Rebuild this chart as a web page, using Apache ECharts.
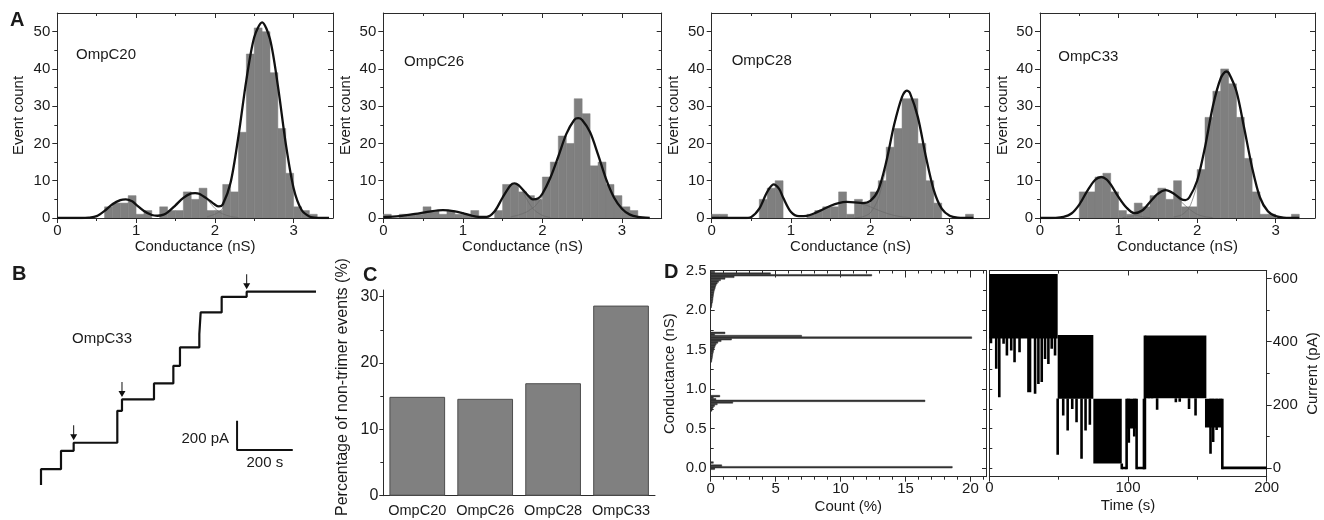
<!DOCTYPE html>
<html><head><meta charset="utf-8">
<script src="https://cdn.jsdelivr.net/npm/echarts@6/dist/echarts.min.js"></script>
<style>html,body{margin:0;padding:0;background:#fff}#c{width:1324px;height:520px}</style>
</head><body><div id="c"></div>
<script>
// ---------------- DATA ----------------
// Panel A: histogram bin edges (nS) and counts per bin
const histEdges = [0,0.1,0.2,0.3,0.4,0.5,0.6,0.7,0.8,0.9,1.0,1.1,1.2,1.3,1.4,1.5,1.6,1.7,1.8,1.9,2.0,2.1,2.2,2.3,2.4,2.5,2.6,2.7,2.8,2.9,3.0,3.1,3.2,3.3,3.4,3.5];
const counts20 = [0,0,0,0,0,0,3,4,4,6,1,2,0,3,2,2,7,5,8,2,2,9,7,23,44,51,50,39,24,12,3,2,1,0,0];
const counts26 = [1,0,1,1,1,3,2,1,2,1,1,2,0,0,2,9,9,7,6,5,11,15,22,20,32,28,14,15,9,6,3,2,0,0,0];
const counts28 = [1,1,0,0,0,0,5,8,10,0,0,0,1,2,3,3,7,1,5,4,7,10,19,24,32,32,20,10,4,0,0,0,1,0,0];
const counts33 = [0,0,0,0,0,7,7,11,12,7,2,1,4,3,6,8,5,10,3,3,13,27,34,40,36,27,16,7,1,1,0,0,1,0,0];
// Panel A: fitted curves
const curve20 = [[0,0],[0.3,0],[0.4,0.1],[0.5,0.5],[0.6,1.9],[0.7,3.7],[0.8,4.8],[0.87,5.0],[0.95,4.5],[1.0,3.6],[1.1,1.9],[1.2,0.8],[1.27,0.6],[1.35,0.9],[1.4,1.5],[1.5,3.4],[1.6,5.4],[1.7,6.6],[1.75,6.7],[1.8,6.5],[1.9,5.2],[2.0,3.6],[2.05,3.1],[2.1,3.6],[2.2,9.5],[2.3,22],[2.4,37],[2.5,48.5],[2.6,52.5],[2.7,48],[2.8,35.5],[2.9,20],[3.0,8],[3.1,2.2],[3.2,0.4],[3.3,0.05],[3.45,0]];
const curve26 = [[0,0.2],[0.2,0.5],[0.4,1.1],[0.6,1.8],[0.75,2.1],[0.9,1.8],[1.0,1.3],[1.1,0.7],[1.2,0.3],[1.3,0.3],[1.4,1.8],[1.5,5.5],[1.6,8.8],[1.65,9.3],[1.7,8.8],[1.8,6.5],[1.88,5.0],[1.95,5.3],[2.0,6.5],[2.1,10.8],[2.2,16.5],[2.3,22.5],[2.4,26.3],[2.45,26.8],[2.5,26.3],[2.6,23],[2.7,17],[2.8,10.5],[2.9,5.5],[3.0,2.5],[3.1,0.9],[3.2,0.3],[3.35,0]];
const curve28 = [[0,0],[0.4,0],[0.5,0.3],[0.6,2.5],[0.7,7],[0.78,9],[0.85,7.8],[0.9,5.5],[1.0,1.6],[1.1,0.5],[1.2,0.6],[1.3,1.3],[1.4,2.3],[1.5,3.3],[1.6,4.0],[1.7,4.3],[1.8,4.2],[1.9,4.0],[2.0,4.6],[2.1,7.5],[2.2,15],[2.3,25],[2.4,32.5],[2.46,34.2],[2.5,33.5],[2.6,27],[2.7,16.5],[2.8,7.5],[2.9,2.5],[3.0,0.6],[3.1,0.1],[3.3,0]];
const curve33 = [[0,0],[0.2,0.05],[0.3,0.3],[0.4,1.2],[0.5,3.6],[0.6,7.2],[0.7,10.2],[0.78,11],[0.85,10.3],[0.9,9],[1.0,5.6],[1.1,2.8],[1.2,1.3],[1.3,2.0],[1.4,4.3],[1.5,6.5],[1.6,7.5],[1.7,6.6],[1.8,5.0],[1.85,4.8],[1.9,5.5],[2.0,10],[2.1,19],[2.2,30],[2.3,37.5],[2.37,39.3],[2.4,39],[2.5,34],[2.6,24],[2.7,13.5],[2.8,5.5],[2.9,1.8],[3.0,0.5],[3.1,0.1],[3.3,0]];
// Panel A: visible parts of the single-peak components (thin lines)
const comps20 = [[[1.9,5.0],[2.0,2.6],[2.05,1.7],[2.1,1.1],[2.2,0.4],[2.3,0.1]],[[1.9,0.3],[2.0,1.0],[2.05,1.6],[2.1,2.6],[2.2,9]]];
const comps26 = [[[1.75,7.2],[1.8,5.2],[1.85,3.4],[1.9,2.1],[2.0,0.7],[2.1,0.15]],[[1.6,0.3],[1.7,0.8],[1.8,1.6],[1.85,2.3],[1.9,3.0],[2.0,5.8],[2.1,10.6]]];
const comps28 = [[[1.85,4.0],[1.9,3.8],[2.0,3.0],[2.1,2.1],[2.2,1.3],[2.3,0.7],[2.4,0.3],[2.5,0.1]],[[1.8,0.1],[1.9,0.3],[2.0,1.4],[2.1,5.2],[2.2,13.5]]];
const comps33 = [[[1.0,5.4],[1.1,2.6],[1.2,1.0],[1.3,0.35],[1.4,0.1]],[[1.05,0.1],[1.1,0.25],[1.2,0.6],[1.3,1.6],[1.4,4.1]],[[1.7,6.3],[1.8,4.3],[1.9,2.4],[2.0,1.0],[2.1,0.35],[2.2,0.1]],[[1.7,0.3],[1.8,0.8],[1.9,2.8],[2.0,8.8]]];
const aNames = ['OmpC20','OmpC26','OmpC28','OmpC33'];

// Panel B: step trace (time s, current pA), arrows (indices into trace)
const bTimes  = [0, 0, 71.8, 117.3, 274, 290.8, 405.7, 475.2, 499, 568.5, 573.3, 648.7, 738.5, 987.4];
const bLevels = [0, 109, 234, 289, 507, 585, 694, 814, 940, 1031, 1179, 1285, 1320, 1320];
const bArrowIdx = [3, 5, 12];
const bScaleBar = [[704,439],[704,239],[904,239]]; // 200 pA x 200 s

// Panel C
const cCats = ['OmpC20','OmpC26','OmpC28','OmpC33'];
const cVals = [14.9, 14.6, 16.95, 28.65];

// Panel D left: conductance histogram [nS, count %]
const dHist = [
 [2.48,0.3],[2.46,4.6],[2.44,12.4],[2.42,1.8],[2.40,1.1],[2.38,0.75],[2.36,0.6],[2.34,0.5],[2.32,0.42],[2.30,0.37],[2.28,0.34],[2.26,0.3],[2.24,0.26],[2.22,0.24],[2.20,0.21],[2.18,0.2],[2.16,0.18],[2.14,0.17],[2.12,0.15],[2.10,0.13],[2.08,0.1],[2.06,0.08],[2.04,0.06],
 [1.71,1.1],[1.69,0.3],[1.67,7.0],[1.65,20.1],[1.63,1.6],[1.61,0.8],[1.59,0.55],[1.57,0.42],[1.55,0.35],[1.53,0.3],[1.51,0.26],[1.49,0.22],[1.47,0.2],[1.45,0.17],[1.43,0.15],[1.41,0.13],[1.39,0.11],[1.37,0.09],[1.35,0.07],
 [0.91,0.7],[0.89,0.2],[0.87,0.4],[0.85,16.5],[0.83,1.7],[0.81,0.5],[0.79,0.3],[0.77,0.2],[0.75,0.14],[0.73,0.1],
 [0.07,0.2],[0.03,0.85],[0.01,18.6],[-0.01,0.3]
];
// Panel D right: current trace as flicker bands [t0, t1, low pA, high pA] and spikes [t, low, high]
const dBands = [[0,49.3,410,614],[27.3,30.3,240,415],[49.3,75,219,421],[75,95.5,14,219],[95.5,99,-4,4],[99,106.2,125,219],[106.2,111.5,-4,4],[112.5,156.5,221,419],[155.5,168,128,219],[168,200,-4,5]];
const dSpikes = [[1.2,395,415],[5.0,314,415],[7.2,224,415],[10.3,393,415],[12.7,356,415],[15.8,372,415],[18.2,335,415],[21.8,366,415],[33.0,235,415],[35.4,266,415],[37.8,272,415],[40.2,345,415],[42.6,329,415],[45.0,377,415],[47.4,356,415],
 [49.3,42,220],[53.3,166,220],[56.5,119,220],[59.8,187,220],[62.9,145,220],[66.5,29,220],[69.4,119,220],[72.5,137,220],
 [95.5,-4,14],[99,-4,219],[100.6,80,219],[104.5,100,219],[106.2,-4,219],[111.5,-4,219],[112.2,-4,419],
 [115,245,221],[117.3,250,221],[121,184,221],[134.5,208,221],[137.3,210,221],[144,187,221],[148.7,166,221],
 [159.5,45,219],[161.4,82,219],[163.9,120,219],[166.3,130,219],[168,-4,219]];

// ---------------- BUILD ----------------
const AXC = '#2b2b2b', TXT = '#1a1a1a', FF = '"Liberation Sans", Arial, sans-serif';
const option = {animation:false, backgroundColor:'#fff', grid:[], xAxis:[], yAxis:[], series:[], graphic:[]};
function grid(l,t,w,h){ option.grid.push({left:l, top:t, width:w, height:h, outerBoundsMode:'none', containLabel:false}); return option.grid.length-1; }
function axis(dim, gi, pos, min, max, c){
  const list = dim==='x' ? option.xAxis : option.yAxis;
  const major = c.major || [];
  const a = {type:'value', gridIndex:gi, position:pos, min:min, max:max,
    splitLine:{show:false}, splitArea:{show:false},
    axisLine:{show:c.line!==false, onZero:false, lineStyle:{color:AXC, width:1}},
    axisTick:{show:major.length>0, inside:!!c.inside, length:c.len||5, customValues:major, lineStyle:{color:AXC, width:1}},
    axisLabel:{show:!!c.labels, customValues:major, margin:c.margin==null?7:c.margin, fontFamily:FF, fontSize:c.fs||15, color:TXT,
      formatter:c.fmt || (v=>String(v)), hideOverlap:false},
    name:c.name||'', nameLocation:'middle', nameGap:c.nameGap||25,
    nameTextStyle:{fontFamily:FF, fontSize:c.nfs||15, color:TXT}};
  if (c.nameRotate!=null) a.nameRotate = c.nameRotate;
  list.push(a); const idx = list.length-1;
  if (c.minor && c.minor.length){
    list.push({type:'value', gridIndex:gi, position:pos, min:min, max:max, splitLine:{show:false},
      axisLine:{show:false, onZero:false}, axisLabel:{show:false},
      axisTick:{show:true, inside:!!c.inside, length:c.mlen||3, customValues:c.minor, lineStyle:{color:AXC, width:1}}});
  }
  return idx;
}
function txt(x,y,s,o,rot){ const el = {type:'text', x:x, y:y, silent:true, z:100,
  style:Object.assign({text:s, fill:TXT, font:'15px '+FF, align:'left', verticalAlign:'middle'}, o||{})};
  if (rot) el.rotation = rot; option.graphic.push(el); }

// ---- Panel A ----
const aGridPos = [[57.3,13,275.7,205],[383.3,13,278.4,205],[711.7,13,277.6,205],[1040,13,275,205]];
const aCounts = [counts20, counts26, counts28, counts33];
const aCurves = [curve20, curve26, curve28, curve33];
const aComps = [comps20, comps26, comps28, comps33];
const aLabelPos = [[76,55],[404,62],[731.7,61],[1058.3,57]];
const yMaj = [0,10,20,30,40,50], yMin = [5,15,25,35,45];
aGridPos.forEach((gp, k) => {
  const g = grid(gp[0], gp[1], gp[2], gp[3]);
  const xi = axis('x', g, 'bottom', 0, 3.5, {major:[0,1,2,3], minor:[0.5,1.5,2.5], labels:true, margin:5, name:'Conductance (nS)', nameGap:18});
  axis('x', g, 'top', 0, 3.5, {major:[1,2,3], minor:[0.5,1.5,2.5], inside:true});
  const yi = axis('y', g, 'left', 0, 55, {major:yMaj, minor:yMin, labels:true, margin:7, name:'Event count', nameGap:k===0?31:30});
  axis('y', g, 'right', 0, 55, {major:yMaj.slice(1), minor:yMin, inside:true});
  option.series.push({type:'custom', xAxisIndex:xi, yAxisIndex:yi, silent:true, z:2, clip:true,
    data:aCounts[k].map((c,i)=>[histEdges[i], histEdges[i+1], c]),
    encode:{x:[0,1], y:2},
    renderItem:(p, api)=>{
      if (!api.value(2)) return null;
      const a = api.coord([api.value(0), api.value(2)]), b = api.coord([api.value(1), 0]);
      return {type:'rect', shape:{x:a[0], y:a[1], width:b[0]-a[0], height:b[1]-a[1]},
        style:{fill:'#7f7f7f', stroke:'#7f7f7f', lineWidth:0.5}};
    }});
  aComps[k].forEach(cv => option.series.push({type:'line', xAxisIndex:xi, yAxisIndex:yi, data:cv, smooth:0.3,
    symbol:'none', silent:true, z:3, lineStyle:{color:'#6a6a6a', width:0.7}}));
  option.series.push({type:'line', xAxisIndex:xi, yAxisIndex:yi, data:aCurves[k], smooth:0.3, symbol:'none',
    silent:true, z:4, lineStyle:{color:'#111', width:2.3}});
  txt(aLabelPos[k][0], aLabelPos[k][1], aNames[k]);
});
txt(10, 20, 'A', {font:'bold 20px '+FF});

// ---- Panel B ----
{
  const g = grid(41, 280, 278.5, 205.1);
  const xi = axis('x', g, 'bottom', 0, 1000, {line:false});
  const yi = axis('y', g, 'left', 0, 1400, {line:false});
  option.series.push({type:'line', step:'end', xAxisIndex:xi, yAxisIndex:yi, silent:true,
    data:bTimes.map((t,i)=>[t, bLevels[i]]), symbol:'none', lineStyle:{color:'#111', width:2.2},
    markPoint:{silent:true, symbol:'path://M3,0 L4,0 L4,9 L7,9 L3.5,15 L0,9 L3,9 Z', symbolSize:[7,15], symbolOffset:[0,-10],
      itemStyle:{color:'#111'}, label:{show:false},
      data:bArrowIdx.map(i=>({coord:[bTimes[i], bLevels[i]]}))}});
  option.series.push({type:'line', xAxisIndex:xi, yAxisIndex:yi, silent:true, data:bScaleBar, symbol:'none',
    lineStyle:{color:'#111', width:2}});
  txt(12, 274, 'B', {font:'bold 20px '+FF});
  txt(72, 339, 'OmpC33');
  txt(229, 439, '200 pA', {align:'right'});
  txt(246.5, 463, '200 s');
}

// ---- Panel C ----
{
  const g = grid(383.3, 290, 271.7, 205.7);
  option.xAxis.push({type:'category', gridIndex:g, position:'bottom', data:cCats,
    axisLine:{onZero:false, lineStyle:{color:AXC, width:1}}, axisTick:{alignWithLabel:true, length:4, lineStyle:{color:AXC}},
    axisLabel:{margin:8, fontFamily:FF, fontSize:14.5, color:TXT, interval:0}, splitLine:{show:false}});
  const xi = option.xAxis.length-1;
  const yi = axis('y', g, 'left', 0, 31, {major:[0,10,20,30], minor:[5,15,25], labels:true, len:4, mlen:3, margin:5, fs:16});
  option.series.push({type:'bar', xAxisIndex:xi, yAxisIndex:yi, data:cVals, barCategoryGap:'18%', silent:true,
    itemStyle:{color:'#808080', borderColor:'#4d4d4d', borderWidth:1}});
  txt(343, 387, 'Percentage of non-trimer events (%)', {font:'16px '+FF, align:'center'}, Math.PI/2);
  txt(363, 275, 'C', {font:'bold 20px '+FF});
}

// ---- Panel D ----
{
  const cMaj = [0,0.5,1,1.5,2,2.5], cMin = [0.25,0.75,1.25,1.75,2.25];
  const g = grid(710.7, 270.5, 275.3, 206.2);
  const cntMin = [1,2,3,4,6,7,8,9,11,12,13,14,16,17,18,19,21];
  const xi = axis('x', g, 'bottom', 0, 21.2, {major:[0,5,10,15,20], minor:cntMin, labels:true, margin:5, name:'Count (%)', nameGap:23});
  axis('x', g, 'top', 0, 21.2, {major:[5,10,15,20], minor:cntMin, inside:true, len:7});
  const yi = axis('y', g, 'left', -0.11, 2.5, {major:cMaj, minor:cMin, inside:true, len:4, labels:true, margin:4,
    fmt:v=>v.toFixed(1), name:'Conductance (nS)', nameGap:33});
  axis('y', g, 'right', -0.11, 2.5, {major:cMaj, minor:cMin, inside:true, len:4});
  option.series.push({type:'custom', xAxisIndex:xi, yAxisIndex:yi, silent:true, clip:true, data:dHist, encode:{x:1, y:0},
    renderItem:(p, api)=>{
      const c = api.value(0), v = api.value(1), h = 0.02;
      const a = api.coord([0, c + h/2]), b = api.coord([v, c - h/2]);
      return {type:'rect', shape:{x:a[0], y:a[1], width:b[0]-a[0], height:Math.max(b[1]-a[1], 1.4)},
        style:{fill:'#333', stroke:'#333', lineWidth:0.5}};
    }});

  const g2 = grid(989.3, 270.5, 277.4, 206.2);
  const xi2 = axis('x', g2, 'bottom', 0, 200, {major:[0,100,200], minor:[50,150], labels:true, margin:4, name:'Time (s)', nameGap:22});
  axis('x', g2, 'top', 0, 200, {major:[100], minor:[50,150], inside:true});
  axis('y', g2, 'left', -0.11, 2.5, {major:cMaj, minor:cMin, inside:true, len:3, mlen:3});
  const yi2 = axis('y', g2, 'right', -27.5, 625, {major:[0,200,400,600], minor:[100,300,500], labels:true, margin:6,
    name:'Current (pA)', nameGap:39, nameRotate:90});
  option.series.push({type:'custom', xAxisIndex:xi2, yAxisIndex:yi2, silent:true, clip:true, data:dBands, encode:{x:[0,1], y:[2,3]},
    renderItem:(p, api)=>{
      const a = api.coord([api.value(0), api.value(3)]), b = api.coord([api.value(1), api.value(2)]);
      return {type:'rect', shape:{x:a[0], y:a[1], width:b[0]-a[0], height:b[1]-a[1]}, style:{fill:'#000'}};
    }});
  option.series.push({type:'custom', xAxisIndex:xi2, yAxisIndex:yi2, silent:true, clip:true, data:dSpikes, encode:{x:0, y:[1,2]},
    renderItem:(p, api)=>{
      const a = api.coord([api.value(0), api.value(2)]), b = api.coord([api.value(0), api.value(1)]);
      return {type:'line', shape:{x1:a[0], y1:a[1], x2:b[0], y2:b[1]}, style:{stroke:'#000', lineWidth:2.6}};
    }});
  txt(664, 272, 'D', {font:'bold 20px '+FF});
}

const chart = echarts.init(document.getElementById('c'), null, {renderer:'canvas'});
chart.setOption(option);
</script>
</body></html>
